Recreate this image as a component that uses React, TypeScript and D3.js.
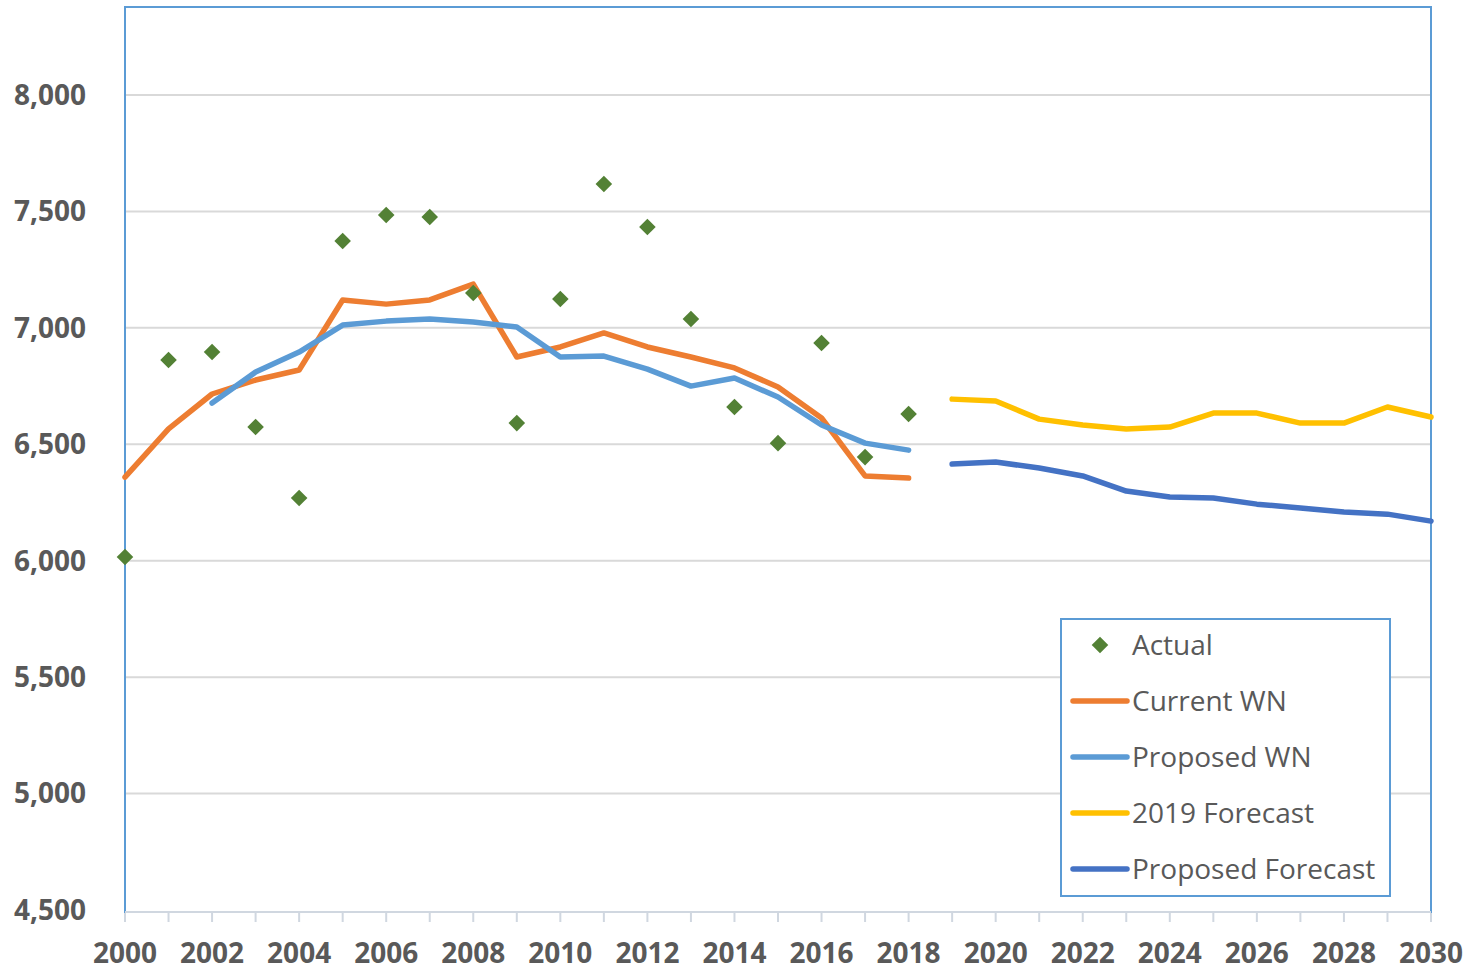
import React from 'react';
import * as d3 from 'd3';

// chart size
const svgWidth = 1476;
const svgHeight = 971;
const margin = { left: 125, right: 45, top: 7, bottom: 61 };
const width = svgWidth - margin.left - margin.right;
const height = svgHeight - margin.top - margin.bottom;

// data
const actualYears = d3.range(2000, 2019);
const actual = [6016, 6862, 6896, 6574, 6269, 7373, 7485, 7476, 7150, 6591, 7124, 7618, 7433, 7038, 6660, 6505, 6935, 6445, 6630];

const currentYears = d3.range(2000, 2019);
const currentWN = [6359, 6566, 6716, 6776, 6819, 7120, 7102, 7120, 7188, 6875, 6918, 6978, 6918, 6875, 6828, 6746, 6613, 6364, 6355];

const proposedYears = d3.range(2002, 2019);
const proposedWN = [6677, 6810, 6896, 7012, 7029, 7038, 7025, 7004, 6875, 6879, 6823, 6750, 6785, 6703, 6583, 6505, 6475];

const forecastYears = d3.range(2019, 2031);
const forecast2019 = [6694, 6686, 6608, 6583, 6566, 6574, 6634, 6634, 6591, 6591, 6660, 6617];
const proposedForecast = [6415, 6424, 6398, 6364, 6299, 6274, 6269, 6243, 6226, 6209, 6200, 6170];

const yTicks = [4500, 5000, 5500, 6000, 6500, 7000, 7500, 8000];
const xTickLabels = d3.range(2000, 2031, 2);

const lineSeries = [
    { name: 'Current WN', years: currentYears, values: currentWN, color: '#ed7d31' },
    { name: 'Proposed WN', years: proposedYears, values: proposedWN, color: '#5b9bd5' },
    { name: '2019 Forecast', years: forecastYears, values: forecast2019, color: '#ffc000' },
    { name: 'Proposed Forecast', years: forecastYears, values: proposedForecast, color: '#4472c4' },
];

const green = '#538135';
const textColor = '#595959';
const borderColor = '#5b9bd5';

const xScale = d3.scaleLinear().domain([2000, 2030]).range([0, width]);
const yScale = d3.scaleLinear().domain([4500, 8378]).range([height, 0]);

const translate = (x: number, y: number) => 'translate(' + x + ',' + y + ')';

const diamond = d3.symbol().type(d3.symbolDiamond2).size(175);

export default function App() {
    const line = d3.line<[number, number]>()
        .x(d => xScale(d[0]))
        .y(d => yScale(d[1]));

    return (
        <div style={{ position: 'absolute', left: 0, top: 0 }}>
            <svg width={svgWidth} height={svgHeight} style={{ display: 'block', background: '#fff' }}>
                <g transform={translate(margin.left, margin.top)}>
                    {/* gridlines */}
                    {yTicks.slice(1).map(t => (
                        <line key={t} x1={0} x2={width} y1={yScale(t)} y2={yScale(t)}
                            stroke='#d9d9d9' strokeWidth={2} />
                    ))}
                    {/* x axis ticks */}
                    {d3.range(2000, 2031).map(yr => (
                        <line key={yr} x1={xScale(yr)} x2={xScale(yr)} y1={height + 2} y2={height + 12}
                            stroke='#d0d7e0' strokeWidth={2} />
                    ))}
                    {/* plot border */}
                    <rect x={0} y={0} width={width} height={height + 2} fill='none'
                        stroke={borderColor} strokeWidth={2} />
                    <line x1={0} x2={width} y1={height + 2} y2={height + 2} stroke='#d0d7e0' strokeWidth={2} />

                    {/* y labels */}
                    {yTicks.map(t => (
                        <text key={t} x={-39} y={yScale(t)} dy='0.35em' textAnchor='end'
                            fontFamily='Open Sans' fontWeight='bold' fontSize={28} fill={textColor}>
                            {d3.format(',')(t)}
                        </text>
                    ))}
                    {/* x labels */}
                    {xTickLabels.map(t => (
                        <text key={t} x={xScale(t)} y={height + 53} textAnchor='middle'
                            fontFamily='Open Sans' fontWeight='bold' fontSize={28} fill={textColor}>
                            {t}
                        </text>
                    ))}

                    {/* lines */}
                    {lineSeries.map(s => (
                        <path key={s.name}
                            d={line(s.years.map((yr, i) => [yr, s.values[i]] as [number, number])) || ''}
                            fill='none' stroke={s.color} strokeWidth={5.5}
                            strokeLinecap='round' strokeLinejoin='round' />
                    ))}

                    {/* actual points */}
                    {actual.map((v, i) => (
                        <path key={i} d={diamond() || ''} fill={green}
                            transform={translate(xScale(actualYears[i]), yScale(v))} />
                    ))}
                </g>

                {/* legend */}
                <g transform={translate(1061, 619)}>
                    <rect x={0} y={0} width={329} height={277} fill='#fff' stroke={borderColor} strokeWidth={2} />
                    <path d={diamond() || ''} fill={green} transform={translate(39, 26)} />
                    <text x={71} y={26} dy='0.35em' fontFamily='Open Sans' fontSize={28} fill={textColor}>Actual</text>
                    {lineSeries.map((s, i) => (
                        <g key={s.name} transform={translate(0, 82 + i * 56)}>
                            <line x1={12} x2={66} y1={0} y2={0} stroke={s.color} strokeWidth={5.5} strokeLinecap='round' />
                            <text x={71} y={0} dy='0.35em' fontFamily='Open Sans' fontSize={28} fill={textColor}>{s.name}</text>
                        </g>
                    ))}
                </g>
            </svg>
        </div>
    );
}
